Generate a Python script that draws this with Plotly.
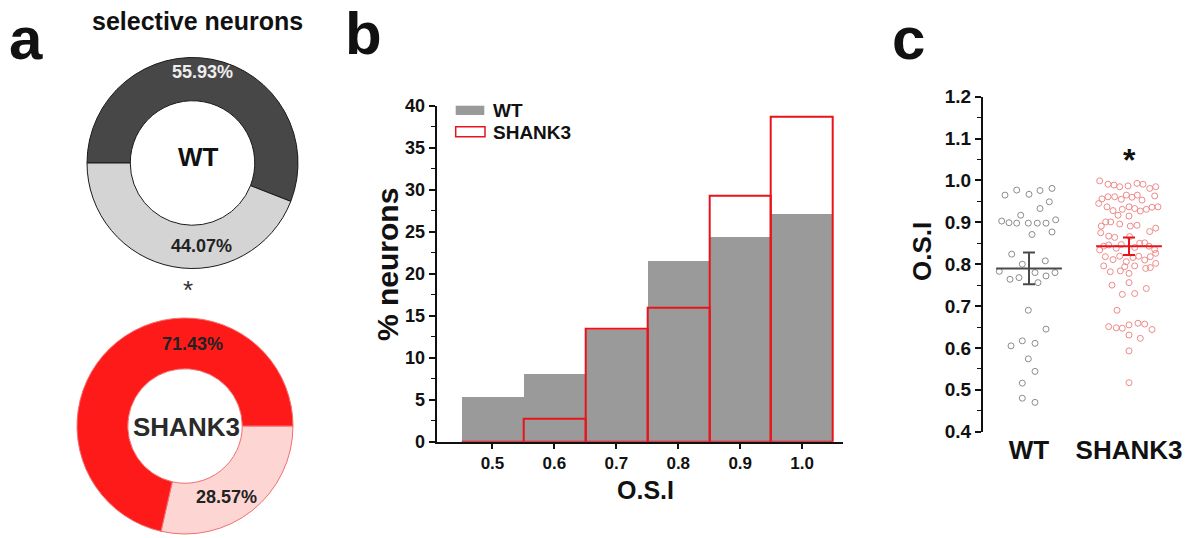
import plotly.graph_objects as go

# ---------------- data ----------------
# panel a: selective neurons (donuts)
wt_pie_labels = ["selective", "non-selective"]
wt_pie_values = [55.93, 44.07]
sh_pie_labels = ["non-selective", "selective"]
sh_pie_values = [28.57, 71.43]

# panel b: O.S.I histogram (% neurons)
bin_centers = [0.5, 0.6, 0.7, 0.8, 0.9, 1.0]
bin_labels = ["0.5", "0.6", "0.7", "0.8", "0.9", "1.0"]
wt_hist = [5.4, 8.1, 13.3, 21.6, 24.4, 27.1]
sh_hist = [0.0, 2.7, 13.4, 16.0, 29.3, 38.7]

# panel c: individual O.S.I values (with horizontal jitter)
groups = ["WT", "SHANK3"]
wt_osi = [0.965, 0.977, 0.967, 0.976, 0.981, 0.933, 0.949, 0.917, 0.903, 0.899,
          0.898, 0.898, 0.898, 0.898, 0.906, 0.871, 0.877, 0.824, 0.800, 0.808,
          0.783, 0.764, 0.768, 0.780, 0.772, 0.780, 0.756, 0.690, 0.645, 0.605,
          0.617, 0.611, 0.574, 0.544, 0.516, 0.480, 0.470]
wt_jitter = [-0.24, -0.123, 0.0, 0.11, 0.23, 0.11, 0.203, -0.083, -0.273, -0.2,
             -0.123, -0.007, 0.083, 0.17, 0.267, 0.03, 0.23, -0.173, -0.067, 0.163,
             -0.297, -0.19, -0.1, 0.06, 0.17, 0.26, 0.09, -0.007, 0.17, -0.18,
             -0.067, 0.06, -0.007, 0.06, -0.067, -0.067, 0.06]
sh_osi = [0.999, 0.991, 0.989, 0.985, 0.987, 0.993, 0.991, 0.981, 0.985,
          0.956, 0.961, 0.961, 0.955, 0.965, 0.960, 0.965, 0.953, 0.963,
          0.945, 0.937, 0.928, 0.931, 0.937, 0.933, 0.927, 0.931, 0.936, 0.937,
          0.917, 0.915,
          0.891, 0.901, 0.901, 0.896, 0.891, 0.893, 0.878, 0.886,
          0.875,
          0.867, 0.864, 0.866, 0.851,
          0.834, 0.843, 0.846, 0.838, 0.847, 0.840, 0.850, 0.843, 0.835,
          0.818, 0.811, 0.819, 0.806, 0.816, 0.819, 0.810, 0.818, 0.826,
          0.796, 0.794, 0.796, 0.790, 0.792, 0.802,
          0.782, 0.784, 0.778,
          0.750, 0.756, 0.742,
          0.728, 0.730,
          0.690,
          0.651, 0.648, 0.647, 0.655, 0.659, 0.657, 0.644,
          0.631, 0.623,
          0.593,
          0.517]
sh_jitter = [-0.293, -0.21, -0.15, -0.093, -0.01, 0.08, 0.14, 0.207, 0.267,
             -0.27, -0.21, -0.143, -0.077, -0.027, 0.03, 0.083, 0.13, 0.257,
             -0.303, -0.22, -0.16, -0.067, 0.0, 0.057, 0.113, 0.173, 0.23, 0.29,
             -0.11, 0.0,
             -0.277, -0.233, -0.183, -0.093, 0.013, 0.08, 0.207, 0.267,
             -0.283,
             -0.203, -0.143, 0.007, 0.157,
             -0.293, -0.253, -0.203, -0.127, -0.077, 0.057, 0.107, 0.2, 0.257,
             -0.237, -0.16, -0.093, -0.027, 0.04, 0.097, 0.157, 0.213, 0.267,
             -0.253, -0.043, 0.057, 0.167, 0.213, 0.267,
             -0.187, -0.087, 0.0,
             -0.17, 0.0, 0.173,
             -0.067, 0.057,
             -0.12,
             -0.203, -0.127, -0.067, 0.0, 0.09, 0.157, 0.23,
             0.0, 0.113,
             0.0,
             0.0]
group_means = [0.790, 0.843]
group_sems = [0.038, 0.021]

# ---------------- figure ----------------
FONT = "Liberation Sans, Arial, sans-serif"
W, H = 1190, 538


def px(x):
    return x / W


def py(y):
    return 1 - y / H


fig = go.Figure()

# panel a donuts
fig.add_trace(go.Pie(
    labels=wt_pie_labels, values=wt_pie_values, hole=0.59, sort=False,
    direction="clockwise", rotation=-90, textinfo="none", showlegend=False,
    marker=dict(colors=["#474747", "#d4d4d4"], line=dict(color="#1a1a1a", width=1)),
    domain=dict(x=[px(87), px(298)], y=[py(268.5), py(57.5)]),
))
fig.add_trace(go.Pie(
    labels=sh_pie_labels, values=sh_pie_values, hole=0.53, sort=False,
    direction="clockwise", rotation=90, textinfo="none", showlegend=False,
    marker=dict(colors=["#fdd5d2", "#ff1a1a"], line=dict(color="#f07070", width=1)),
    domain=dict(x=[px(77), px(293)], y=[py(534), py(318)]),
))

# panel b histogram
fig.add_trace(go.Bar(
    x=bin_centers, y=wt_hist, width=0.1, name="WT", showlegend=False,
    marker=dict(color="#9a9a9a", line=dict(width=0)),
    xaxis="x", yaxis="y",
))
fig.add_trace(go.Bar(
    x=bin_centers, y=sh_hist, width=0.1, name="SHANK3", showlegend=False,
    marker=dict(color="rgba(0,0,0,0)", line=dict(color="#e8141b", width=2)),
    xaxis="x", yaxis="y",
))

# panel c scatter
fig.add_trace(go.Scatter(
    x=[1 + j for j in wt_jitter], y=wt_osi, mode="markers", showlegend=False,
    marker=dict(symbol="circle-open", size=6, color="#8c8c8c", line=dict(width=1)),
    xaxis="x2", yaxis="y2",
))
fig.add_trace(go.Scatter(
    x=[2 + j for j in sh_jitter], y=sh_osi, mode="markers", showlegend=False,
    marker=dict(symbol="circle-open", size=6, color="#f08a8a", line=dict(width=1)),
    xaxis="x2", yaxis="y2",
))
mean_colors = ["#4a4a4a", "#e8141b"]
for i in range(2):
    fig.add_trace(go.Scatter(
        x=[i + 1], y=[group_means[i]], mode="markers", showlegend=False,
        marker=dict(symbol="line-ew", size=47, color=mean_colors[i],
                    line=dict(width=2, color=mean_colors[i])),
        error_y=dict(type="data", array=[group_sems[i]], width=6, thickness=2,
                     color=mean_colors[i]),
        xaxis="x2", yaxis="y2",
    ))

bold = dict(family=FONT, color="#111", weight="bold")

fig.update_layout(
    width=W, height=H,
    margin=dict(l=0, r=0, t=0, b=0, pad=0, autoexpand=False),
    showlegend=False,
    paper_bgcolor="white", plot_bgcolor="white",
    barmode="overlay", bargap=0,
    font=dict(family=FONT, color="#111"),
    xaxis=dict(
        domain=[px(436.7), px(843)], range=[0.41, 1.066], automargin=False,
        tickvals=bin_centers, ticktext=bin_labels,
        ticks="outside", ticklen=5, tickwidth=1.5, tickcolor="#111",
        showline=True, linewidth=2, linecolor="#111",
        showgrid=False, zeroline=False,
        tickfont=dict(size=17, **bold),
        anchor="y",
    ),
    yaxis=dict(
        domain=[py(441.7), py(105.7)], range=[0, 40], automargin=False,
        tickvals=[0, 5, 10, 15, 20, 25, 30, 35, 40],
        ticks="outside", ticklen=6, tickwidth=1.5, tickcolor="#111",
        minor=dict(dtick=2.5, ticks="outside", ticklen=4, tickwidth=1.2, tickcolor="#111"),
        showline=True, linewidth=2, linecolor="#111",
        showgrid=False, zeroline=False,
        tickfont=dict(size=18, **bold),
        anchor="x",
    ),
    xaxis2=dict(
        domain=[px(983), px(1175)], range=[0.54, 2.46], automargin=False,
        tickvals=[1, 2], ticktext=groups, ticks="",
        showline=False, showgrid=False, zeroline=False,
        tickfont=dict(size=26, **bold),
        anchor="y2",
    ),
    yaxis2=dict(
        domain=[py(431.7), py(96.7)], range=[0.4, 1.2], automargin=False,
        tickvals=[0.4, 0.5, 0.6, 0.7, 0.8, 0.9, 1.0, 1.1, 1.2], tickformat=".1f",
        ticks="outside", ticklen=6, tickwidth=1.5, tickcolor="#111",
        minor=dict(dtick=0.05, ticks="outside", ticklen=4, tickwidth=1.2, tickcolor="#111"),
        showline=True, linewidth=2, linecolor="#111",
        showgrid=False, zeroline=False,
        tickfont=dict(size=19, **bold),
        anchor="x2",
    ),
)

# legend of panel b (manual swatches)
fig.add_shape(type="rect", xref="paper", yref="paper",
              x0=px(455.7), x1=px(484.3), y0=py(115), y1=py(105.7),
              fillcolor="#9a9a9a", line=dict(width=0))
fig.add_shape(type="rect", xref="paper", yref="paper",
              x0=px(455.7), x1=px(485), y0=py(136.7), y1=py(126.7),
              fillcolor="white", line=dict(color="#e8141b", width=1.5))

ann = []


def text(x, y, s, size, color="#111", anchor="center", angle=0, weight="bold", yref="paper", xref="paper"):
    ann.append(dict(
        x=x, y=y, xref=xref, yref=yref, text=s, showarrow=False,
        xanchor=anchor, yanchor="middle", textangle=angle,
        font=dict(family=FONT, size=size, color=color, weight=weight),
    ))


# panel letters
text(px(26), py(38), "a", 60)
text(px(363), py(33), "b", 60)
text(px(908), py(38), "c", 60)

# panel a texts
text(px(197.5), py(21), "selective neurons", 25)
text(px(198), py(157), "WT", 26, color="#111")
text(px(186.5), py(427), "SHANK3", 26, color="#2a2a2a")
text(px(202.5), py(72), f"{wt_pie_values[0]:.2f}%", 18, color="#eeeeee")
text(px(201.5), py(246), f"{wt_pie_values[1]:.2f}%", 18, color="#222")
text(px(192), py(344), f"{sh_pie_values[1]:.2f}%", 18, color="#222")
text(px(226.5), py(497), f"{sh_pie_values[0]:.2f}%", 18, color="#222")
text(px(187.5), py(290), "*", 26, color="#333", weight="normal")

# panel b titles and legend text
text(px(387), py(265), "% neurons", 30, angle=-90)
text(px(645), py(490), "O.S.I", 25)
text(px(491), py(110.5), "WT", 19, anchor="left")
text(px(491), py(132.5), "SHANK3", 19, anchor="left")

# panel c titles
text(px(922), py(252), "O.S.I", 26, angle=-90)
text(2, 1.05, "*", 32, xref="x2", yref="y2")

fig.update_layout(annotations=ann)

fig.write_html(
    "out.html",
    config={"displayModeBar": False},
    post_script="document.body.style.margin='0';document.body.style.overflow='hidden';",
)
